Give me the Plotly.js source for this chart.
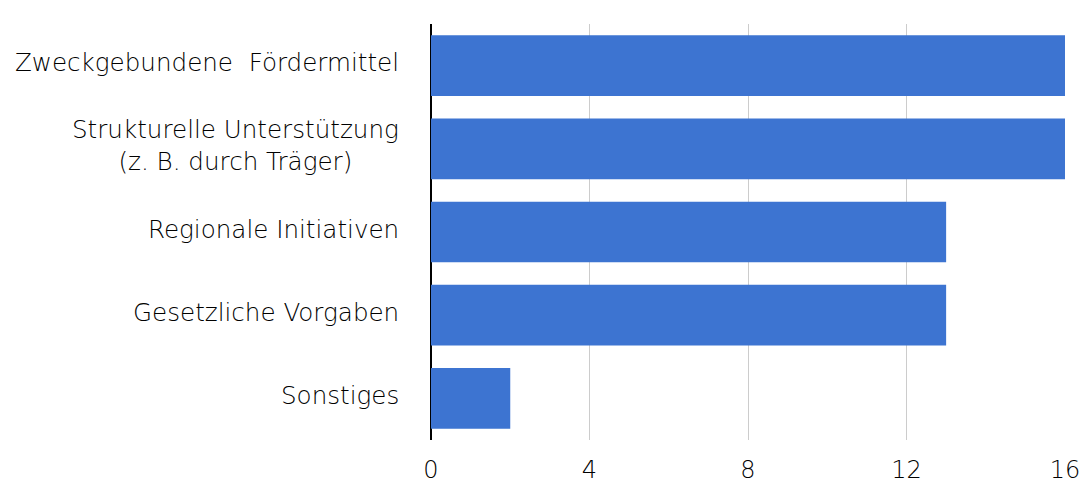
<!DOCTYPE html>
<html>
<head>
<meta charset="utf-8">
<script src="https://cdn.plot.ly/plotly-3.0.1.min.js"></script>
<style>
  html, body { margin: 0; padding: 0; background: #fff; }
  #chart { width: 1082px; height: 484px; }
</style>
</head>
<body>
<div id="chart"></div>
<script>
// Antworten: Was unterstützt die Arbeit? (Anzahl Nennungen)
const categories = [
  "Zweckgebundene  Fördermittel",
  "Strukturelle Unterstützung<br>(z. B. durch Träger)",
  "Regionale Initiativen",
  "Gesetzliche Vorgaben",
  "Sonstiges"
];
const counts = [16, 16, 13, 13, 2];
const xTicks = [0, 4, 8, 12, 16];

const FONT = "'DejaVu Sans', 'Open Sans', sans-serif";
const TEXT = "#000000";

const trace = {
  type: "bar",
  orientation: "h",
  y: categories,
  x: counts,
  marker: { color: "#3d74d1" },
  hoverinfo: "skip"
};

// Category labels as centred annotations so two-line labels stay centred
const labelNotes = categories.map(c => ({
  xref: "paper", yref: "y",
  x: 0, y: c,
  xanchor: "right", yanchor: "middle",
  xshift: -30,
  yshift: 3,
  text: c,
  align: "center",
  showarrow: false,
  font: { family: FONT, size: 24.6, color: TEXT, weight: 200 }
}));

const layout = {
  width: 1082, height: 484,
  margin: { l: 431, r: 17, t: 24, b: 44, pad: 0 },
  paper_bgcolor: "#fff",
  plot_bgcolor: "#fff",
  showlegend: false,
  bargap: 0.27,
  xaxis: {
    range: [0, 16],
    tickvals: xTicks,
    ticktext: xTicks.map(String),
    showgrid: true,
    gridcolor: "#cccccc",
    gridwidth: 1,
    zeroline: true,
    zerolinecolor: "#000",
    zerolinewidth: 2,
    showline: false,
    ticks: "",
    ticklabelstandoff: 13,
    tickfont: { family: FONT, size: 24, color: TEXT, weight: 200 },
    fixedrange: true
  },
  yaxis: {
    categoryorder: "array",
    categoryarray: categories,
    autorange: "reversed",
    showticklabels: false,
    showgrid: false,
    zeroline: false,
    ticks: "",
    fixedrange: true
  },
  annotations: labelNotes
};

Plotly.newPlot("chart", [trace], layout, { displayModeBar: false, staticPlot: true });
</script>
</body>
</html>
